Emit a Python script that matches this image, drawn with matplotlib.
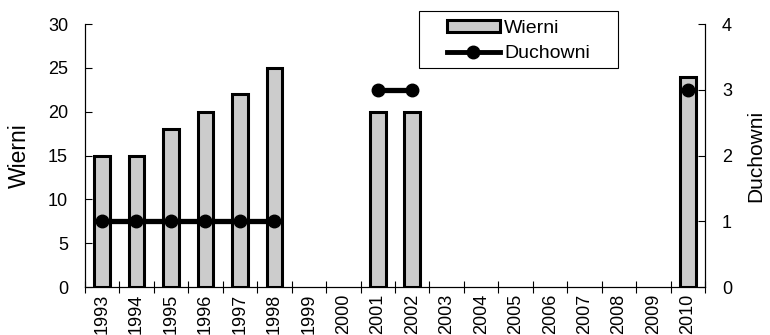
import matplotlib.pyplot as plt
from matplotlib.patches import Patch, Rectangle
from matplotlib.lines import Line2D
import numpy as np

plt.rcParams['font.family'] = ['Liberation Sans', 'DejaVu Sans']

# data -------------------------------------------------------------------------
years = [str(y) for y in range(1993, 2011)]
wierni = [15, 15, 18, 20, 22, 25, np.nan, np.nan, 20, 20,
          np.nan, np.nan, np.nan, np.nan, np.nan, np.nan, np.nan, 24]
duchowni = [1, 1, 1, 1, 1, 1, np.nan, np.nan, 3, 3,
            np.nan, np.nan, np.nan, np.nan, np.nan, np.nan, np.nan, 3]

x = np.arange(len(years))
w = np.array(wierni, dtype=float)
has_bar = ~np.isnan(w)

W, H = 770, 335
fig = plt.figure(figsize=(W / 100, H / 100), dpi=100)
ax = fig.add_axes([0.110, 0.143, 0.806, 0.785])
ax2 = ax.twinx()

# bars (left axis) -------------------------------------------------------------
ax.bar(x[has_bar], w[has_bar], width=0.45, color='#cccccc',
       edgecolor='black', linewidth=2.2, zorder=2)
ax.set_ylim(0, 30)
ax.set_yticks(range(0, 31, 5))
ax.set_xlim(-0.5, len(years) - 0.5)
ax.set_ylabel('Wierni', fontsize=16.5, labelpad=12)

# line (right axis) ------------------------------------------------------------
ax2.plot(x, duchowni, color='black', linewidth=3.8, marker='o',
         markersize=9, zorder=3)
ax2.set_ylim(0, 4)
ax2.set_yticks(range(0, 5))
ax2.set_ylabel('Duchowni', fontsize=15, labelpad=10)

# x axis: labels at centres, ticks between categories --------------------------
ax.set_xticks(x)
ax.set_xticklabels(years, rotation=90, fontsize=13)
ax.tick_params(axis='x', which='major', length=0, pad=5)
ax.set_xticks(np.arange(-0.5, len(years), 1), minor=True)
ax.tick_params(axis='x', which='minor', direction='inout', length=9, width=0.8)

ax.tick_params(axis='y', direction='in', length=5, labelsize=13, pad=12)
ax2.tick_params(axis='y', direction='in', length=5, labelsize=13, pad=12)

for a in (ax, ax2):
    a.spines['top'].set_visible(False)
    for s in ('left', 'right', 'bottom'):
        a.spines[s].set_linewidth(0.8)
ax2.set_zorder(ax.get_zorder() + 1)

# legend (frame drawn separately, it is wider than the entries) -----------------
handles = [Patch(facecolor='#cccccc', edgecolor='black', linewidth=2.2),
           Line2D([], [], color='black', linewidth=3.5, marker='o', markersize=9)]
leg = fig.legend(handles, ['Wierni', 'Duchowni'], loc='upper left',
                 bbox_to_anchor=(447 / W, 1 - 20 / H), fontsize=14,
                 frameon=False, handlelength=2.7, handleheight=0.55,
                 handletextpad=0.25, borderpad=0, labelspacing=0.42,
                 borderaxespad=0)
fig.patches.append(Rectangle((419 / W, 1 - 68 / H), 199 / W, 57 / H,
                             transform=fig.transFigure, fill=False,
                             edgecolor='black', linewidth=0.8))

fig.savefig('out.png', dpi=100)
